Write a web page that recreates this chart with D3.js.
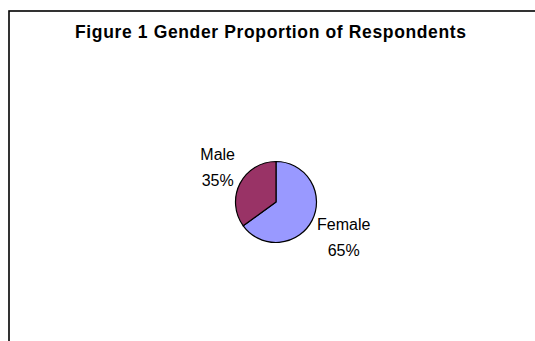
<!DOCTYPE html>
<html>
<head>
<meta charset="utf-8">
<script src="https://cdn.jsdelivr.net/npm/d3@7"></script>
<style>
  html, body { margin: 0; padding: 0; background: #fff; }
  svg { display: block; }
  text { font-family: Arial, "Liberation Sans", sans-serif; fill: #000; }
</style>
</head>
<body>
<svg id="chart" width="535" height="341"></svg>
<script>
// Respondent gender split (percent)
const categories = ["Female", "Male"];
const shares = [65, 35];
const sliceColors = ["#9999FF", "#993366"];
const chartTitle = "Figure 1 Gender Proportion of Respondents";

const svg = d3.select("#chart");

// Chart area frame (runs off the right and bottom of the view)
svg.append("rect")
  .attr("x", 9).attr("y", 11)
  .attr("width", 600).attr("height", 400)
  .attr("fill", "#fff")
  .attr("stroke", "#000")
  .attr("stroke-width", 1.6);

svg.append("text")
  .attr("x", 75).attr("y", 38)
  .attr("textLength", 391)
  .attr("lengthAdjust", "spacing")
  .style("font-weight", "bold")
  .style("font-size", "17.5px")
  .text(chartTitle);

const cx = 276, cy = 202, r = 40.5;
const data = categories.map((c, i) => ({ name: c, value: shares[i], color: sliceColors[i] }));

const pie = d3.pie().value(d => d.value).sort(null);
const arc = d3.arc().innerRadius(0).outerRadius(r);
const arcs = pie(data);

const g = svg.append("g").attr("transform", `translate(${cx},${cy})`);
g.selectAll("path")
  .data(arcs)
  .join("path")
  .attr("d", arc)
  .attr("fill", d => d.data.color)
  .attr("stroke", "#000")
  .attr("stroke-width", 1.2)
  .attr("stroke-linejoin", "round");

// Two-line labels: the box corner nearest the pie sits on a ring just outside it
const labelRing = 46, lineGap = 26;
const labels = g.selectAll("g.label")
  .data(arcs)
  .join("g")
  .attr("class", "label");

labels.append("text")
  .attr("class", "name")
  .attr("text-anchor", "middle")
  .style("font-size", "16px")
  .text(d => d.data.name);
labels.append("text")
  .attr("class", "pct")
  .attr("text-anchor", "middle")
  .style("font-size", "16px")
  .text(d => d.data.value + "%");

labels.each(function(d) {
  const sel = d3.select(this);
  const w = Math.max(
    sel.select(".name").node().getComputedTextLength(),
    sel.select(".pct").node().getComputedTextLength());
  const a = (d.startAngle + d.endAngle) / 2;
  const px = labelRing * Math.sin(a);
  const py = -labelRing * Math.cos(a);
  const bx = px + Math.sign(px) * w / 2;
  const by = py + Math.sign(py) * 14;
  sel.attr("transform", `translate(${bx},${by})`);
  sel.select(".name").attr("y", -7);
  sel.select(".pct").attr("y", -7 + lineGap);
});
</script>
</body>
</html>
